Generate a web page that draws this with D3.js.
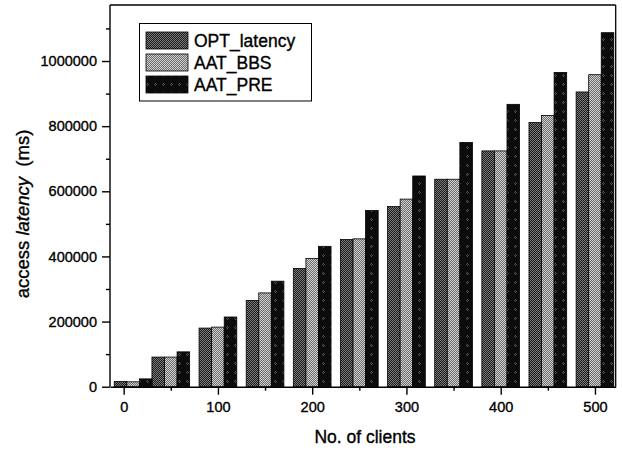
<!DOCTYPE html>
<html><head><meta charset="utf-8">
<script src="https://cdn.jsdelivr.net/npm/d3@7"></script>
<style>body{margin:0;background:#fff}svg{display:block}text{font-family:"Liberation Sans",Arial,sans-serif;fill:#000;stroke:#000;stroke-width:0.35px}</style>
</head><body>
<svg id="c" width="622" height="450"></svg>
<script>
const clients = [10, 50, 100, 150, 200, 250, 300, 350, 400, 450, 500];
const seriesNames = ["OPT_latency", "AAT_BBS", "AAT_PRE"];
const optLatency = [16000, 91000, 180000, 265000, 363000, 452000, 553000, 637000, 724000, 811000, 905000];
const aatBBS = [15000, 91000, 183000, 288000, 394000, 454000, 576000, 637000, 724000, 833000, 958000];
const aatPRE = [24000, 107000, 214000, 324000, 431000, 541000, 647000, 750000, 867000, 965000, 1087000];
const xTicks = [0, 100, 200, 300, 400, 500];
const xMinorTicks = [50, 150, 250, 350, 450];
const yTicks = [0, 200000, 400000, 600000, 800000, 1000000];
const yMinorTicks = [100000, 300000, 500000, 700000, 900000, 1100000];

const series = [optLatency, aatBBS, aatPRE];
const fills = ["url(#pOPT)", "url(#pBBS)", "url(#pPRE)"];

const svg = d3.select("#c");
const m = {l: 110, t: 5, r: 6.3, b: 63.3};
const W = 622, H = 450;
const x = d3.scaleLinear().domain([-14.5, 522]).range([m.l, W - m.r]);
const y = d3.scaleLinear().domain([0, 1172000]).range([H - m.b, m.t]);

// patterns
const defs = svg.append("defs");
function checker(id, c1, c2) {
  const p = defs.append("pattern").attr("id", id).attr("width", 2).attr("height", 2)
    .attr("patternUnits", "userSpaceOnUse");
  p.append("rect").attr("width", 2).attr("height", 2).attr("fill", c1);
  p.append("rect").attr("width", 1).attr("height", 1).attr("fill", c2);
  p.append("rect").attr("x", 1).attr("y", 1).attr("width", 1).attr("height", 1).attr("fill", c2);
}
checker("pOPT", "#1c1c1c", "#7a7a7a");
checker("pBBS", "#6e6e6e", "#cfcfcf");
const pp = defs.append("pattern").attr("id", "pPRE").attr("width", 8).attr("height", 9)
  .attr("patternUnits", "userSpaceOnUse");
pp.append("rect").attr("width", 8).attr("height", 9).attr("fill", "#0c0c0c");
pp.append("rect").attr("x", 3).attr("y", 2).attr("width", 1).attr("height", 1).attr("fill", "#5e5e5e");
pp.append("rect").attr("x", 2).attr("y", 3).attr("width", 1).attr("height", 1).attr("fill", "#4a4a4a");
pp.append("rect").attr("x", 4).attr("y", 3).attr("width", 1).attr("height", 1).attr("fill", "#4a4a4a");
pp.append("rect").attr("x", 3).attr("y", 4).attr("width", 1).attr("height", 1).attr("fill", "#5e5e5e");

// bars
const groupW = 40;
const barW = groupW / 3;
series.forEach((vals, si) => {
  svg.append("g").selectAll("rect").data(clients).join("rect")
    .attr("x", (d) => x(d - groupW / 2 + si * barW))
    .attr("width", x(barW) - x(0))
    .attr("y", (d, i) => y(vals[i]))
    .attr("height", (d, i) => y(0) - y(vals[i]))
    .attr("fill", fills[si])
    .attr("stroke", "#000").attr("stroke-width", 0.8);
});

// frame top/right
svg.append("line").attr("x1", x.range()[0]).attr("x2", x.range()[1]).attr("y1", m.t).attr("y2", m.t)
  .attr("stroke", "#000").attr("stroke-width", 1.3);
svg.append("line").attr("x1", x.range()[1]).attr("x2", x.range()[1]).attr("y1", m.t).attr("y2", y(0))
  .attr("stroke", "#000").attr("stroke-width", 1.3);

// axes
const xAxis = svg.append("g").attr("transform", `translate(0,${y(0)})`)
  .call(d3.axisBottom(x).tickValues(xTicks).tickSize(8).tickSizeOuter(0).tickPadding(7).tickFormat(d3.format("d")));
const xMinor = svg.append("g").attr("transform", `translate(0,${y(0)})`)
  .call(d3.axisBottom(x).tickValues(xMinorTicks).tickSize(4).tickSizeOuter(0).tickFormat(""));
xMinor.select(".domain").remove();
const yAxis = svg.append("g").attr("transform", `translate(${m.l},0)`)
  .call(d3.axisLeft(y).tickValues(yTicks).tickSize(8).tickSizeOuter(0).tickPadding(5).tickFormat(d3.format("d")));
const yMinor = svg.append("g").attr("transform", `translate(${m.l},0)`)
  .call(d3.axisLeft(y).tickValues(yMinorTicks).tickSize(4).tickSizeOuter(0).tickFormat(""));
yMinor.select(".domain").remove();
yAxis.select(".domain").attr("d", `M0,${m.t}V${y(0)}`);
svg.selectAll(".domain, .tick line").attr("stroke", "#000").attr("stroke-width", 1.4);
svg.selectAll(".tick text").attr("font-size", 14.5).attr("font-family", "'Liberation Sans',Arial,sans-serif").attr("fill", "#000");

// axis titles
svg.append("text").attr("x", 365).attr("y", 443).attr("text-anchor", "middle")
  .attr("font-size", 17.5).text("No. of clients");
const yl = svg.append("text").attr("transform", "translate(29,214) rotate(-90)")
  .attr("text-anchor", "middle").attr("font-size", 18.5);
yl.append("tspan").text("access ");
yl.append("tspan").attr("font-style", "italic").text("latency");
yl.append("tspan").text("\u00a0 (ms)");

// legend
const lg = svg.append("g");
lg.append("rect").attr("x", 139.5).attr("y", 23.5).attr("width", 172).attr("height", 77.5)
  .attr("fill", "#fff").attr("stroke", "#000").attr("stroke-width", 1);
seriesNames.forEach((n, i) => {
  const cy = 40.5 + i * 22;
  lg.append("rect").attr("x", 146).attr("y", cy - 8.5).attr("width", 42).attr("height", 17)
    .attr("fill", fills[i]).attr("stroke", "#000").attr("stroke-width", 0.8);
  lg.append("text").attr("x", 194).attr("y", cy).attr("dy", "0.35em").attr("font-size", 17.5).text(n);
});
</script>
</body></html>
